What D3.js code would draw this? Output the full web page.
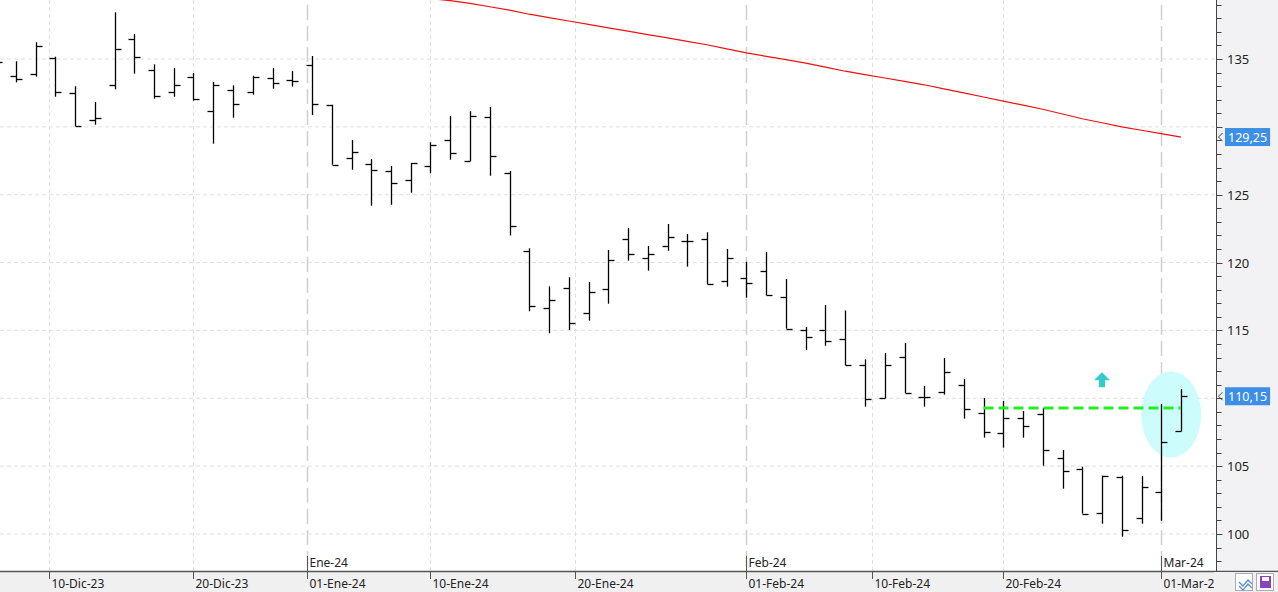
<!DOCTYPE html>
<html><head><meta charset="utf-8">
<script src="https://cdn.jsdelivr.net/npm/d3@7"></script>
<style>body{margin:0;background:#fff;overflow:hidden}svg{display:block;font-family:"Noto Sans","Open Sans",sans-serif}</style>
</head><body><svg id="c" width="1278" height="592"></svg>
<script>
const dates=["2023-12-06","2023-12-07","2023-12-08","2023-12-11","2023-12-12","2023-12-13","2023-12-14","2023-12-15","2023-12-18","2023-12-19","2023-12-20","2023-12-21","2023-12-22","2023-12-27","2023-12-28","2023-12-29","2024-01-02","2024-01-03","2024-01-04","2024-01-05","2024-01-08","2024-01-09","2024-01-10","2024-01-11","2024-01-12","2024-01-15","2024-01-16","2024-01-17","2024-01-18","2024-01-19","2024-01-22","2024-01-23","2024-01-24","2024-01-25","2024-01-26","2024-01-29","2024-01-30","2024-01-31","2024-02-01","2024-02-02","2024-02-05","2024-02-06","2024-02-07","2024-02-08","2024-02-09","2024-02-12","2024-02-13","2024-02-14","2024-02-15","2024-02-16","2024-02-19","2024-02-20","2024-02-21","2024-02-22","2024-02-23","2024-02-26","2024-02-27","2024-02-28","2024-02-29","2024-03-01","2024-03-04"];
const open=[134.8,133.77,133.87,135.07,132.47,130.48,133.06,136.45,134.17,132.57,133.65,131.15,132.69,132.55,133.58,133.43,134.54,131.63,127.68,127.24,126.73,126.06,127.09,129.0,127.48,130.73,126.6,120.83,116.63,118.10,116.28,118.03,121.71,120.31,121.2,121.57,121.71,118.62,118.84,119.36,117.44,115.01,115.03,114.37,112.43,110.0,113.04,110.12,110.44,111.0,108.89,107.42,108.55,108.84,105.58,104.79,101.53,104.18,101.16,103.07,107.56];
const high=[135.2,134.83,136.23,135.17,132.99,131.83,138.44,136.84,134.61,134.34,133.97,133.31,133.06,133.77,134.34,134.12,135.22,131.63,129.03,127.63,127.12,127.34,128.86,130.8,131.15,131.46,126.75,121.05,118.25,118.92,118.57,120.93,122.55,121.22,122.84,122.1,122.23,121.0,120.06,120.78,118.79,115.25,116.87,116.47,112.87,113.34,114.07,110.9,112.97,111.42,110.02,109.8,109.06,109.28,106.19,104.96,104.30,104.3,104.27,109.58,110.68];
const low=[134.4,133.28,133.70,132.22,130.04,130.16,132.77,133.92,132.08,132.22,131.93,128.76,130.67,132.37,132.81,132.97,130.87,127.21,126.84,124.19,124.26,125.15,126.58,127.58,127.48,126.40,122.0,116.41,114.79,115.03,115.72,116.97,120.14,119.4,120.87,119.7,118.4,118.22,117.41,117.59,115.13,113.56,113.87,112.43,109.38,110.0,110.37,109.38,110.27,108.5,107.1,106.36,107.1,105.03,103.34,101.50,100.76,99.8,100.76,100.98,107.56];
const close=[134.78,133.50,135.93,132.57,130.04,130.63,135.71,135.17,132.30,133.06,132.08,133.06,131.71,133.67,133.21,133.36,131.71,127.21,128.13,126.80,125.84,127.34,128.64,128.07,130.80,127.83,122.67,116.78,117.22,115.52,117.81,120.17,120.61,120.61,121.88,121.57,118.4,120.31,118.47,117.59,115.13,114.49,114.22,112.43,109.95,112.43,110.37,110.12,111.94,109.21,107.49,108.52,107.94,106.17,104.61,101.50,104.25,100.29,103.44,106.76,110.15];
const maStart=22;
const ma=[139.45,139.3,139.1,138.85,138.6,138.3,138.05,137.8,137.55,137.3,137.05,136.8,136.55,136.3,136.05,135.75,135.45,135.2,134.95,134.7,134.4,134.1,133.85,133.6,133.35,133.1,132.8,132.5,132.2,131.9,131.6,131.3,130.95,130.6,130.3,130.0,129.75,129.5,129.25];
const dayTicks=[["2023-12-10","10-Dic-23"],["2023-12-20","20-Dic-23"],["2024-01-01","01-Ene-24"],["2024-01-10","10-Ene-24"],["2024-01-20","20-Ene-24"],["2024-02-01","01-Feb-24"],["2024-02-10","10-Feb-24"],["2024-02-20","20-Feb-24"],["2024-03-01","01-Mar-2"]];
const monthTicks=[["2024-01-01","Ene-24"],["2024-02-01","Feb-24"],["2024-03-01","Mar-24"]];
const yTicks=[100,105,110,115,120,125,130,135];
const levelValue=109.28, levelFrom=50, levelTo=60;
const arrowIdx=56, arrowVal=111.4;
const lastLabels=[[129.25,"129,25"],[110.15,"110,15"]];

const svg=d3.select("#c");
const W=1278,H=592,axisX=1216.5,axisY=571;
const x=d3.scaleLinear().domain([0,60]).range([-4,1181]);
const y=d3.scaleLinear().domain([100,135]).range([534,59]);
const t=dates.map(d=>new Date(d).getTime());
function dIdx(s){const v=new Date(s).getTime();for(let i=0;i<t.length-1;i++){if(v>=t[i]&&v<=t[i+1])return i+(v-t[i])/(t[i+1]-t[i]);}return t.length-1;}

svg.append("rect").attr("x",axisX).attr("y",0).attr("width",W-axisX).attr("height",H).attr("fill","#f2f2f5");
svg.append("rect").attr("x",0).attr("y",axisY).attr("width",W).attr("height",H-axisY).attr("fill","#f0f0f0");
const g=svg.append("g");
yTicks.forEach(v=>g.append("line").attr("x1",0).attr("x2",axisX).attr("y1",y(v)).attr("y2",y(v)).attr("stroke","#e0e0e0").attr("stroke-dasharray","4,3"));
dayTicks.forEach(([d])=>{if(monthTicks.some(m=>m[0]===d))return;const xx=Math.round(x(dIdx(d)))+0.5;g.append("line").attr("x1",xx).attr("x2",xx).attr("y1",0).attr("y2",axisY).attr("stroke","#e0e0e0").attr("stroke-dasharray","4,3");});
monthTicks.forEach(([d,l])=>{const xx=Math.round(x(dIdx(d)))+0.5;g.append("line").attr("x1",xx).attr("x2",xx).attr("y1",5).attr("y2",axisY).attr("stroke","#d0d0d0").attr("stroke-width",1.5).attr("stroke-dasharray","15,6");
 g.append("line").attr("x1",xx).attr("x2",xx).attr("y1",556).attr("y2",axisY).attr("stroke","#555");
 g.append("text").attr("x",xx+2).attr("y",567).attr("font-size",12).attr("fill","#222").text(l);});
g.append("ellipse").attr("cx",x(59.5)).attr("cy",y(108.8)).attr("rx",30).attr("ry",43).attr("fill","#ccfcfc");
g.append("path").datum(ma).attr("fill","none").attr("stroke","#ee1111").attr("stroke-width",1.2)
 .attr("d",d3.line().x((d,i)=>x(maStart+i)).y(d=>y(d)));
const bars=g.append("g").attr("stroke","#000").attr("stroke-width",1.3);
dates.forEach((d,i)=>{const xx=Math.round(x(i))+0.5;
 bars.append("line").attr("x1",xx).attr("x2",xx).attr("y1",y(high[i])).attr("y2",y(low[i]));
 bars.append("line").attr("x1",xx-6).attr("x2",xx).attr("y1",Math.round(y(open[i]))+0.5).attr("y2",Math.round(y(open[i]))+0.5);
 bars.append("line").attr("x1",xx).attr("x2",xx+6).attr("y1",Math.round(y(close[i]))+0.5).attr("y2",Math.round(y(close[i]))+0.5);});
g.append("line").attr("x1",x(levelFrom)).attr("x2",x(levelTo)).attr("y1",y(levelValue)).attr("y2",y(levelValue)).attr("stroke","#22ee22").attr("stroke-width",3).attr("stroke-dasharray","10,5");
const ax=x(arrowIdx),ay=y(arrowVal);
g.append("path").attr("d",`M${ax},${ay-7}L${ax+8},${ay+1}L${ax+3},${ay+1}L${ax+3},${ay+8}L${ax-3},${ay+8}L${ax-3},${ay+1}L${ax-8},${ay+1}Z`).attr("fill","#33cccc");
const ya=svg.append("g");
ya.append("line").attr("x1",axisX).attr("x2",axisX).attr("y1",0).attr("y2",axisY).attr("stroke","#444");
for(let v=97;v<=139;v++){const yy=Math.round(y(v))+0.5;if(yy<0||yy>axisY-3)continue;
 ya.append("line").attr("x1",axisX).attr("x2",axisX+(v%5===0?6:5)).attr("y1",yy).attr("y2",yy).attr("stroke","#444");}
yTicks.forEach(v=>{if(lastLabels.some(([lv])=>Math.abs(y(lv)-y(v))<14))return;ya.append("text").attr("x",1227).attr("y",y(v)+5).attr("font-size",13).attr("fill","#222").text(v);});
lastLabels.forEach(([v,l])=>{const yy=y(v);
 const r=ya.append("rect").attr("x",1225).attr("y",yy-9).attr("height",18).attr("fill","#3c8ee6");
 const tx=ya.append("text").attr("x",1228).attr("y",yy+5).attr("font-size",12.5).attr("fill","#fff").text(l);
 r.attr("width",tx.node().getComputedTextLength()+6);
 ya.append("path").attr("d",`M${axisX+6},${yy-4}L${axisX+2},${yy}L${axisX+6},${yy+4}`).attr("fill","none").attr("stroke","#444");});
const xa=svg.append("g");
xa.append("line").attr("x1",0).attr("x2",W).attr("y1",axisY+0.5).attr("y2",axisY+0.5).attr("stroke","#555").attr("stroke-width",1.5);
dayTicks.forEach(([d,l])=>{const xx=Math.round(x(dIdx(d)))+0.5;
 xa.append("line").attr("x1",xx).attr("x2",xx).attr("y1",axisY).attr("y2",axisY+8).attr("stroke","#555");
 xa.append("text").attr("x",xx+2).attr("y",588).attr("font-size",12).attr("fill","#222").text(l);});
svg.append("rect").attr("x",1214).attr("y",572).attr("width",64).attr("height",20).attr("fill","#f0f0f0");
[1235,1256].forEach(bx=>{svg.append("rect").attr("x",bx+0.5).attr("y",573.5).attr("width",17).attr("height",17).attr("fill","#fff").attr("stroke","#aab");});
svg.append("path").attr("d","M1239,582l4,4l5,-6l4,4M1239,586l4,4l5,-6l4,4").attr("fill","none").attr("stroke","#5b8fd6").attr("stroke-width",1.3);
svg.append("rect").attr("x",1260).attr("y",576).attr("width",11).attr("height",12).attr("fill","#8844bb");
svg.append("rect").attr("x",1262).attr("y",577).attr("width",7).attr("height",4).attr("fill","#fff");
</script></body></html>
